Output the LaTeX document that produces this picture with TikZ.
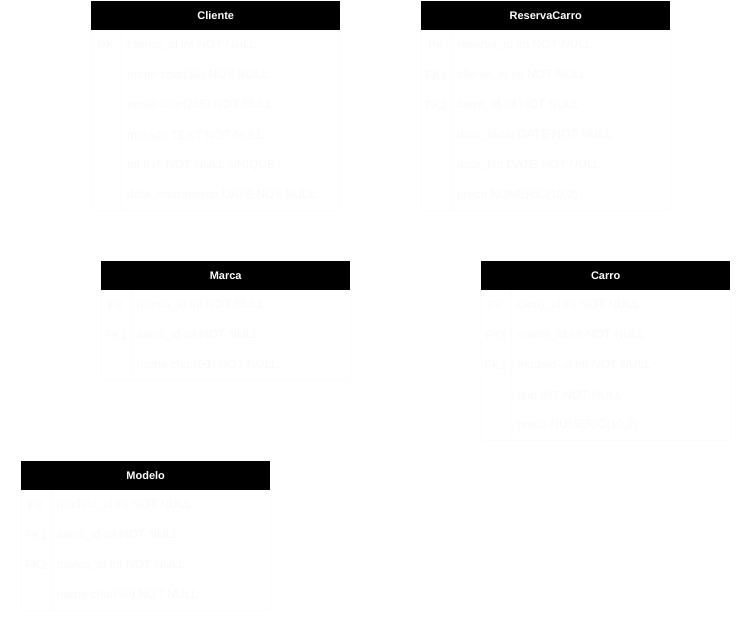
\documentclass[tikz,border=0pt]{standalone}
\usepackage{fontspec}
\setsansfont{Liberation Sans}
\usetikzlibrary{calc, positioning}
\definecolor{faint}{RGB}{249,249,249}
\definecolor{gridline}{RGB}{252,252,252}
\pgfkeys{/tikz/.cd,
    overall style/.style={
        x=1pt, y=-1pt,   % pixel-like units, y grows downwards
        font=\sffamily
    },
    tablehead/.style={
        fill=black, text=white, anchor=north west,
        font=\sffamily\bfseries\fontsize{11}{13}\selectfont,
        minimum width=249pt, minimum height=29pt, inner sep=0pt
    },
    keycell/.style={text=faint, font=\sffamily\fontsize{12}{14}\selectfont, inner sep=0pt},
    rowtext/.style={text=faint, anchor=west, font=\sffamily\fontsize{12}{14}\selectfont, inner sep=0pt},
    tableline/.style={draw=gridline, line width=0.8pt}
}

\begin{document}
\begin{tikzpicture}[overall style]

    \useasboundingbox (0,0) rectangle (751,621);

    % --- 1. cabecalhos das tabelas ---
    \node[tablehead] (cliente) at (91,1)  {Cliente};
    \node[tablehead] (reserva) at (421,1) {ReservaCarro};
    \node[tablehead] (marca)   at (101,261) {Marca};
    \node[tablehead] (carro)   at (481,261) {Carro};
    \node[tablehead] (modelo)  at (21,461)  {Modelo};

    % --- 2. linhas de cada tabela ---
    \foreach \tab/\n in {cliente/6, reserva/6, marca/3, carro/5, modelo/4} {
        \draw[tableline] (\tab.south west) rectangle ($(\tab.south east)+(0,30*\n)$);
        \draw[tableline] ($(\tab.south west)+(30,0)$) -- ++(0,30*\n);
    }

    % Cliente
    \foreach \k/\t [count=\i] in {PK/cliente\_id int NOT NULL, /nome char(50) NOT NULL,
        /email char(255) NOT NULL, /morada TEXT NOT NULL, /nif INT NOT NULL UNIQUE,
        /data\_nascimento DATE NOT NULL} {
        \node[keycell] (cliente-k\i) at ($(cliente.south west)+(15,30*\i-15)$) {\k};
        \node[rowtext] (cliente-r\i) at ($(cliente.south west)+(36,30*\i-15)$) {\t};
    }

    % ReservaCarro
    \foreach \k/\t [count=\i] in {PK/reserva\_id int NOT NULL, FK1/cliente\_id int NOT NULL,
        FK2/carro\_id int NOT NULL, /data\_inicio DATE NOT NULL, /data\_fim DATE NOT NULL,
        /{preco NUMERIC(10,2)}} {
        \node[keycell] (reserva-k\i) at ($(reserva.south west)+(15,30*\i-15)$) {\k};
        \node[rowtext] (reserva-r\i) at ($(reserva.south west)+(36,30*\i-15)$) {\t};
    }

    % Marca
    \foreach \k/\t [count=\i] in {PK/marca\_id int NOT NULL, FK1/carro\_id int NOT NULL,
        /nome char(50) NOT NULL} {
        \node[keycell] (marca-k\i) at ($(marca.south west)+(15,30*\i-15)$) {\k};
        \node[rowtext] (marca-r\i) at ($(marca.south west)+(36,30*\i-15)$) {\t};
    }

    % Carro
    \foreach \k/\t [count=\i] in {PK/carro\_id int NOT NULL, FK1/marca\_id int NOT NULL,
        FK2/modelo\_id int NOT NULL, /ano INT NOT NULL, /{preco NUMERIC(10,2)}} {
        \node[keycell] (carro-k\i) at ($(carro.south west)+(15,30*\i-15)$) {\k};
        \node[rowtext] (carro-r\i) at ($(carro.south west)+(36,30*\i-15)$) {\t};
    }

    % Modelo
    \foreach \k/\t [count=\i] in {PK/modelo\_id int NOT NULL, FK1/carro\_id int NOT NULL,
        FK2/marca\_id int NOT NULL, /nome char(50) NOT NULL} {
        \node[keycell] (modelo-k\i) at ($(modelo.south west)+(15,30*\i-15)$) {\k};
        \node[rowtext] (modelo-r\i) at ($(modelo.south west)+(36,30*\i-15)$) {\t};
    }

\end{tikzpicture}
\end{document}
